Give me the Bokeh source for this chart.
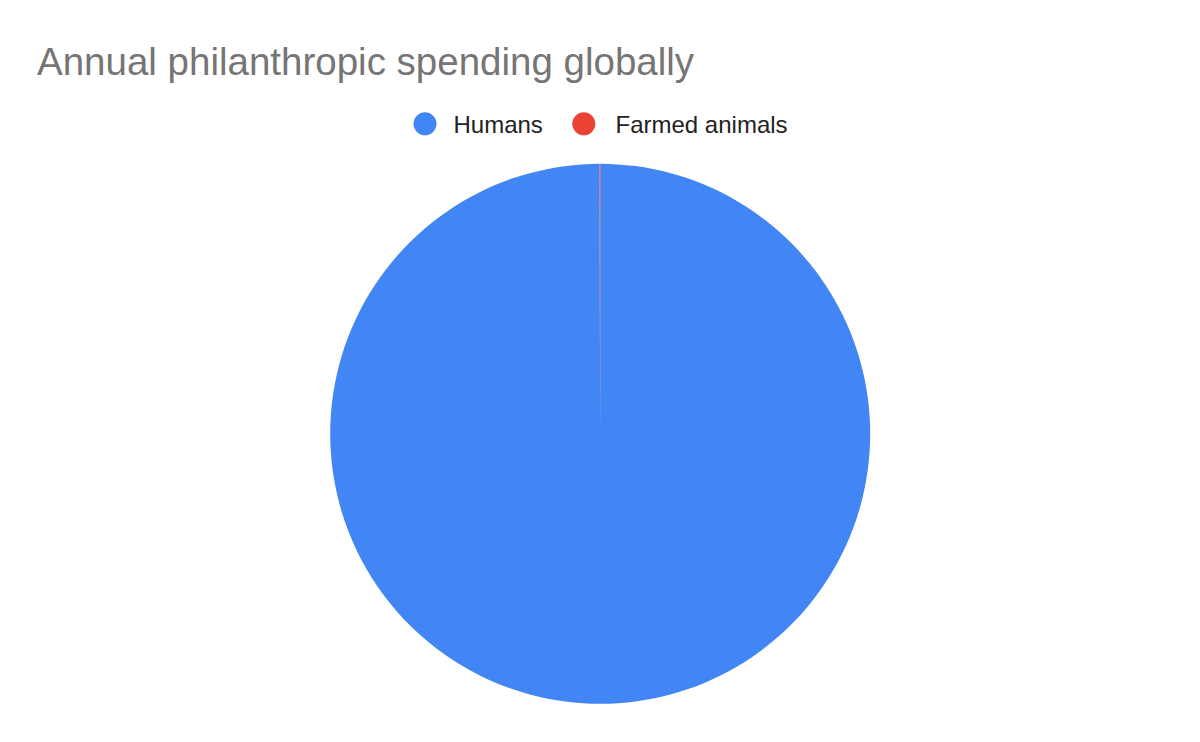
import numpy as np
from bokeh.plotting import figure
from bokeh.models import Range1d, ColumnDataSource
from bokeh.core.properties import value
from bokeh.embed import file_html
from bokeh.resources import INLINE

# ---- data ----
title_text = "Annual philanthropic spending globally"
categories = ["Humans", "Farmed animals"]
spending = [470.0, 0.2]          # billions USD (approx.)
colors = ["#4285F4", "#EA4335"]

# ---- layout (pixels) ----
W, H = 1184, 726
cx, cy, r = 599.7, H - 433.3, 270

p = figure(width=W, height=H, output_backend="svg", toolbar_location=None,
           x_range=Range1d(0, W), y_range=Range1d(0, H),
           x_axis_location=None, y_axis_location=None, min_border=0,
           outline_line_color=None)
p.grid.visible = False
p.background_fill_color = "white"

vals = np.array(spending)
frac = vals / vals.sum()
ends = np.pi / 2 - 2 * np.pi * np.cumsum(frac)
starts = np.concatenate([[np.pi / 2], ends[:-1]])
src = ColumnDataSource(dict(start=starts, end=ends, color=colors, cat=categories))
p.wedge(x=cx, y=cy, radius=r, start_angle="start", end_angle="end",
        direction="clock", fill_color="color", line_color=None, source=src)

# title
p.text(x=[36.5], y=[H - 61], text=[title_text], text_font=value("Liberation Sans"),
       text_font_size="38.5px", text_color="#757575", text_baseline="alphabetic")

# legend
leg_circle_x = [424.5, 583.3]
leg_text_x = [453, 615]
p.scatter(x=leg_circle_x, y=[H - 123.3] * 2, size=23, marker="circle",
          fill_color=colors, line_color=None)
p.text(x=leg_text_x, y=[H - 123.7] * 2, text=categories,
       text_font=value("Liberation Sans"), text_font_size="24px",
       text_color="#222222", text_baseline="alphabetic")

open("out.html", "w").write(file_html(p, INLINE))
